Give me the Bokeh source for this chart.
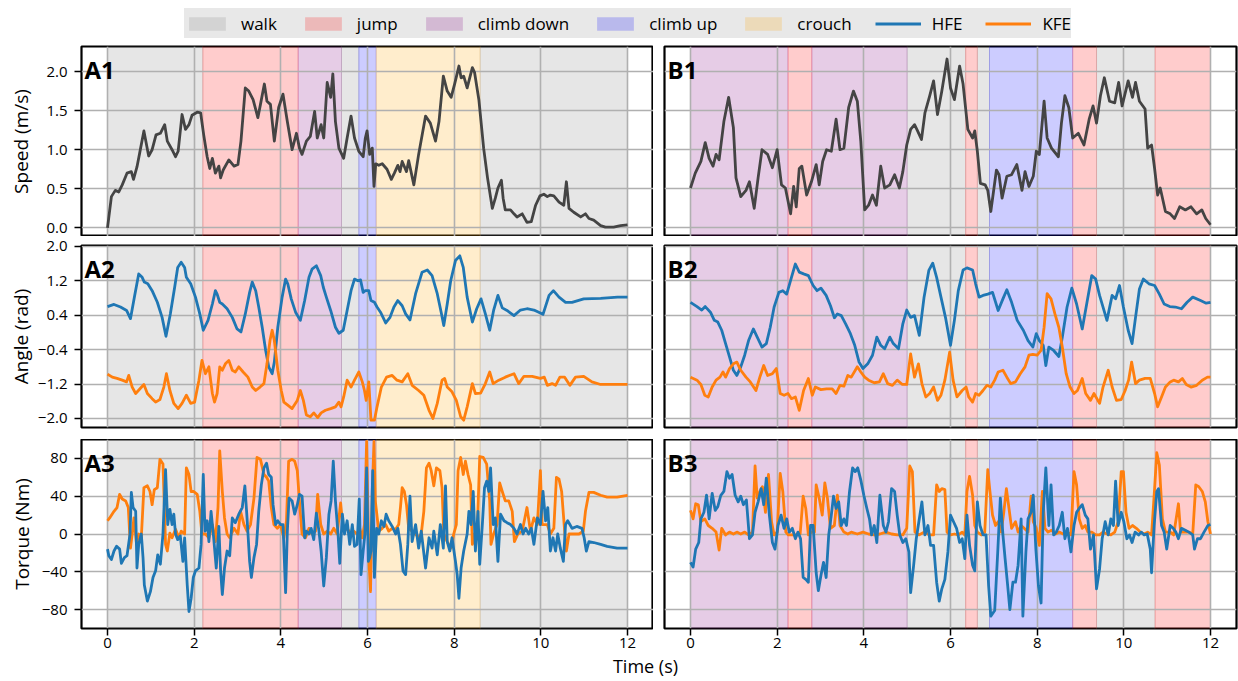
from bokeh.plotting import figure
from bokeh.models import (Range1d, FixedTicker, CustomJSTickFormatter, Label, Legend,
                          LegendItem, ColumnDataSource)
from bokeh.layouts import column, row
from bokeh.embed import file_html
from bokeh.resources import INLINE

FONT = "Open Sans"

# ---------------- data ----------------
PHASES = ["walk", "jump", "climb down", "climb up", "crouch"]
PHASE_COLORS = ["gray", "red", "purple", "blue", "orange"]
JOINTS = ["HFE", "KFE"]
JOINT_COLORS = ["#1f77b4", "#ff7f0e"]
SPEED_COLOR = "#444444"

XTICKS = [0, 2, 4, 6, 8, 10, 12]
SPEED_TICKS = [0.0, 0.5, 1.0, 1.5, 2.0]
ANGLE_TICKS = [-2.0, -1.2, -0.4, 0.4, 1.2, 2.0]
TORQUE_TICKS = [-80, -40, 0, 40, 80]

# phase segments
A_seg_start = [0.0, 2.2, 4.4, 5.4, 5.8, 6.2, 8.6]
A_seg_end = [2.2, 4.4, 5.4, 5.8, 6.2, 8.6, 12.0]
A_seg_phase = ["walk", "jump", "climb down", "walk", "climb up", "crouch", "walk"]
B_seg_start = [0.0, 2.25, 2.8, 5.0, 6.35, 6.62, 6.9, 8.82, 9.37, 10.72]
B_seg_end = [2.25, 2.8, 5.0, 6.35, 6.62, 6.9, 8.82, 9.37, 10.72, 12.0]
B_seg_phase = ["climb down", "jump", "climb down", "walk", "jump", "walk", "climb up", "jump", "walk", "jump"]

# speed A1
tA1 = [0.00,0.09,0.18,0.26,0.34,0.45,0.55,0.60,0.68,0.74,0.84,0.95,1.03,1.12,1.22,1.32,1.38,1.49,1.57,1.63,
       1.72,1.80,1.88,1.95,2.07,2.15,2.22,2.30,2.36,2.42,2.49,2.57,2.61,2.67,2.80,2.92,3.01,3.08,3.18,3.26,
       3.36,3.47,3.53,3.62,3.68,3.76,3.85,3.95,4.05,4.15,4.26,4.36,4.43,4.49,4.59,4.68,4.78,4.84,4.93,4.99,
       5.07,5.15,5.20,5.26,5.34,5.45,5.53,5.62,5.70,5.80,5.90,5.95,5.99,6.05,6.11,6.15,6.19,6.26,6.34,6.45,
       6.55,6.62,6.70,6.75,6.80,6.90,6.95,7.07,7.18,7.34,7.45,7.57,7.65,7.75,7.84,7.93,8.01,8.11,8.16,8.22,
       8.30,8.42,8.47,8.57,8.68,8.77,8.88,8.95,9.01,9.09,9.13,9.18,9.30,9.38,9.45,9.57,9.68,9.78,9.88,9.98,
       10.07,10.15,10.22,10.30,10.42,10.53,10.59,10.65,10.76,10.92,11.03,11.11,11.22,11.38,11.49,11.68,11.84,12.00]
vA1 = [0.00,0.40,0.48,0.46,0.55,0.70,0.72,0.62,0.78,0.95,1.24,0.92,1.00,1.19,1.21,1.32,1.11,1.00,0.91,0.98,
       1.45,1.26,1.32,1.44,1.48,1.47,1.19,0.91,0.76,0.89,0.70,0.79,0.64,0.74,0.87,0.79,0.81,1.11,1.79,1.75,
       1.64,1.41,1.58,1.84,1.62,1.58,1.11,1.54,1.71,1.36,1.00,1.21,1.02,0.94,1.11,1.17,1.49,1.15,1.32,1.15,
       1.86,1.67,1.97,1.36,1.02,0.89,1.15,1.43,1.15,0.98,0.91,1.15,1.24,0.94,1.02,0.53,0.82,0.80,0.82,0.75,
       0.62,0.70,0.80,0.72,0.85,0.72,0.86,0.55,0.94,1.43,1.34,1.11,1.36,1.94,1.75,1.67,1.84,2.07,1.92,1.94,
       1.79,2.05,1.99,1.64,1.02,0.64,0.25,0.38,0.51,0.61,0.38,0.23,0.23,0.18,0.14,0.18,0.07,0.08,0.29,0.41,
       0.43,0.40,0.42,0.41,0.33,0.29,0.59,0.25,0.20,0.14,0.18,0.12,0.10,0.03,0.01,0.01,0.03,0.04]

# speed B1
tB1 = [0.00,0.11,0.24,0.34,0.43,0.52,0.59,0.66,0.77,0.88,0.99,1.05,1.16,1.28,1.36,1.47,1.56,1.65,1.78,1.89,
       2.00,2.10,2.19,2.31,2.38,2.44,2.51,2.57,2.68,2.79,2.90,2.97,3.05,3.14,3.25,3.36,3.45,3.54,3.65,3.76,
       3.85,3.93,4.02,4.11,4.20,4.29,4.39,4.48,4.60,4.71,4.82,4.90,4.99,5.08,5.17,5.24,5.33,5.41,5.52,5.61,
       5.70,5.80,5.92,6.00,6.09,6.21,6.29,6.40,6.51,6.56,6.62,6.69,6.80,6.86,6.93,7.06,7.12,7.19,7.30,7.41,
       7.53,7.65,7.72,7.81,7.91,7.98,8.05,8.16,8.23,8.33,8.49,8.56,8.64,8.73,8.82,8.95,9.08,9.20,9.29,9.37,
       9.46,9.55,9.67,9.79,9.88,9.96,10.10,10.20,10.27,10.36,10.49,10.55,10.64,10.71,10.78,10.84,10.96,11.07,11.17,11.29,
       11.42,11.55,11.68,11.80,11.89,12.00]
vB1 = [0.51,0.70,0.85,1.09,0.89,0.79,0.94,0.87,1.36,1.67,1.28,0.64,0.40,0.48,0.59,0.25,0.64,1.00,0.94,0.77,
       1.00,0.55,0.51,0.18,0.53,0.27,0.76,0.79,0.42,0.59,0.81,0.55,0.85,1.00,0.98,1.39,1.00,1.02,1.54,1.75,
       1.62,1.11,0.23,0.29,0.42,0.29,0.79,0.51,0.55,0.68,0.51,0.72,1.06,1.26,1.32,1.24,1.13,1.47,1.69,1.88,
       1.45,1.75,2.16,1.79,1.64,2.07,1.84,1.26,1.15,1.24,0.98,0.57,0.55,0.48,0.21,0.74,0.68,0.38,0.66,0.68,
       0.81,0.48,0.72,0.53,0.66,0.98,0.94,1.62,1.15,1.02,0.91,1.34,1.69,1.54,1.15,1.21,1.06,1.39,1.56,1.34,
       1.69,1.92,1.62,1.60,1.86,1.56,1.88,1.67,1.86,1.62,1.52,1.02,1.06,0.76,0.42,0.51,0.21,0.18,0.12,0.27,
       0.23,0.27,0.18,0.23,0.12,0.04]

# angle A2
tHA2 = [0,0.15,0.30,0.44,0.53,0.62,0.72,0.80,0.85,0.93,1.03,1.15,1.26,1.35,1.45,1.55,1.62,1.70,1.78,1.82,
        1.92,2.03,2.13,2.21,2.32,2.42,2.49,2.53,2.59,2.65,2.76,2.88,2.99,3.08,3.18,3.28,3.34,3.42,3.49,3.57,
        3.65,3.72,3.80,3.85,3.93,4.03,4.11,4.16,4.24,4.34,4.45,4.55,4.65,4.72,4.82,4.92,4.98,5.05,5.15,5.26,
        5.34,5.44,5.53,5.62,5.70,5.78,5.84,5.90,5.95,6.03,6.08,6.16,6.22,6.30,6.42,6.52,6.61,6.70,6.80,6.88,
        6.98,7.11,7.26,7.38,7.49,7.61,7.70,7.76,7.84,7.92,8.03,8.13,8.21,8.30,8.42,8.52,8.62,8.72,8.82,8.91,
        9.01,9.11,9.22,9.38,9.53,9.68,9.84,10.05,10.19,10.29,10.42,10.57,10.72,10.99,11.38,11.77,12.00]
hA2 = [0.60,0.65,0.59,0.51,0.32,0.82,1.36,1.28,1.17,1.13,0.97,0.70,0.35,-0.09,0.43,1.05,1.51,1.63,1.51,1.28,
       1.13,0.82,0.43,0.05,0.28,0.66,0.97,0.89,0.70,0.66,0.55,0.35,0.08,0.01,0.43,0.93,1.17,0.97,0.59,0.12,
       -0.42,-0.80,-0.96,-0.69,0.12,0.82,1.24,1.13,0.78,0.47,0.28,0.74,1.28,1.47,1.55,1.32,1.05,0.82,0.51,0.12,
       -0.02,0.05,0.51,0.97,1.24,1.20,1.22,0.93,0.97,0.97,0.74,0.70,0.59,0.47,0.22,0.35,0.59,0.74,0.62,0.43,
       0.29,0.90,1.40,1.45,1.32,0.90,0.47,0.16,0.66,1.20,1.67,1.78,1.51,0.82,0.24,0.55,0.78,0.43,0.05,0.51,
       0.86,0.57,0.51,0.39,0.52,0.55,0.52,0.42,0.86,0.97,0.82,0.70,0.70,0.78,0.79,0.82,0.82]
tKA2 = [0,0.11,0.22,0.34,0.44,0.49,0.57,0.65,0.75,0.84,0.92,1.03,1.11,1.21,1.30,1.36,1.44,1.53,1.63,1.72,
        1.82,1.92,2.01,2.11,2.18,2.26,2.34,2.42,2.47,2.53,2.59,2.65,2.72,2.80,2.88,2.95,3.03,3.13,3.24,3.34,
        3.42,3.52,3.61,3.68,3.75,3.80,3.85,3.93,4.01,4.07,4.16,4.26,4.38,4.45,4.52,4.59,4.68,4.76,4.85,4.93,
        5.03,5.15,5.26,5.34,5.39,5.45,5.53,5.62,5.70,5.80,5.88,5.93,5.97,6.03,6.08,6.16,6.22,6.32,6.44,6.57,
        6.68,6.80,6.93,7.03,7.18,7.30,7.42,7.51,7.61,7.72,7.78,7.84,7.95,8.05,8.15,8.22,8.30,8.42,8.49,8.61,
        8.72,8.82,8.90,9.03,9.18,9.38,9.49,9.61,9.80,9.99,10.08,10.15,10.26,10.34,10.44,10.55,10.67,10.80,10.99,11.18,
        11.38,12.00]
kA2 = [-0.97,-1.04,-1.07,-1.11,-1.15,-1.00,-1.27,-1.42,-1.31,-1.21,-1.42,-1.54,-1.62,-1.56,-1.27,-0.96,-1.35,-1.65,-1.77,-1.65,
       -1.46,-1.65,-1.62,-1.11,-0.65,-0.96,-0.80,-1.42,-1.62,-1.42,-0.80,-0.88,-0.73,-0.65,-0.88,-0.92,-0.80,-0.92,-1.04,-1.27,
       -1.35,-1.27,-1.19,-0.73,-0.19,0.05,-0.19,-0.88,-1.35,-1.62,-1.69,-1.77,-1.58,-1.35,-1.58,-1.92,-1.96,-1.87,-1.98,-1.87,
       -1.81,-1.77,-1.73,-1.62,-1.73,-1.50,-1.11,-1.27,-1.11,-0.92,-1.15,-1.35,-1.58,-1.15,-2.04,-2.04,-1.73,-1.27,-1.04,-1.00,
       -1.11,-1.15,-0.96,-1.23,-1.35,-1.46,-1.81,-2.00,-1.65,-1.11,-1.07,-1.27,-1.38,-1.58,-1.96,-2.04,-1.73,-1.19,-1.42,-1.41,
       -1.19,-0.92,-1.19,-1.11,-1.04,-0.96,-1.19,-1.02,-1.02,-1.07,-1.04,-1.23,-1.19,-1.23,-1.04,-1.04,-1.23,-1.04,-1.02,-1.15,
       -1.21,-1.21]

# angle B2
tHB2 = [0,0.15,0.26,0.34,0.46,0.55,0.63,0.72,0.81,0.90,0.99,1.07,1.16,1.25,1.34,1.45,1.54,1.65,1.75,1.84,
        1.93,2.04,2.13,2.22,2.33,2.42,2.51,2.61,2.72,2.83,2.92,3.01,3.13,3.23,3.32,3.39,3.48,3.58,3.69,3.79,
        3.89,3.98,4.09,4.20,4.30,4.39,4.48,4.60,4.68,4.80,4.90,4.99,5.08,5.17,5.28,5.39,5.50,5.59,5.68,5.78,
        5.89,6.00,6.09,6.18,6.29,6.38,6.51,6.58,6.66,6.75,6.86,6.97,7.10,7.21,7.30,7.41,7.54,7.68,7.79,7.90,
        7.98,8.05,8.14,8.20,8.27,8.38,8.50,8.58,8.69,8.80,8.91,9.04,9.15,9.26,9.35,9.44,9.52,9.61,9.73,9.81,
        9.90,9.99,10.10,10.19,10.27,10.36,10.45,10.58,10.71,10.82,10.93,11.06,11.19,11.33,11.46,11.59,11.77,11.90,12.00]
hB2 = [0.70,0.60,0.52,0.60,0.47,0.28,0.24,0.05,-0.26,-0.57,-0.88,-1.00,-0.80,-0.53,-0.19,0.08,-0.11,-0.34,-0.26,0.12,
       0.59,0.93,0.97,0.89,1.28,1.59,1.40,1.36,1.32,1.09,0.97,1.03,0.86,0.62,0.34,0.43,0.39,0.20,-0.03,-0.30,
       -0.69,-0.84,-0.73,-0.53,-0.11,-0.30,-0.38,-0.11,-0.26,-0.38,0.20,0.52,0.35,0.39,-0.07,0.82,1.44,1.61,1.28,0.82,
       0.32,-0.30,0.28,0.97,1.45,1.50,1.45,1.13,0.82,0.86,0.89,0.93,0.51,0.78,0.99,0.70,0.28,0.05,-0.19,-0.34,
       -0.03,-0.19,-0.30,-0.77,-0.34,-0.42,-0.56,-0.11,0.59,1.03,0.66,0.08,0.70,1.32,1.24,0.86,0.59,0.28,0.86,0.78,
       1.09,0.59,0.05,-0.26,0.35,1.01,1.24,1.13,1.09,0.89,0.66,0.60,0.59,0.55,0.70,0.82,0.74,0.68,0.70]
tKB2 = [0,0.15,0.24,0.33,0.41,0.50,0.59,0.68,0.75,0.81,0.90,0.99,1.07,1.16,1.28,1.38,1.51,1.60,1.69,1.78,
        1.89,1.98,2.07,2.16,2.25,2.33,2.42,2.51,2.61,2.72,2.81,2.88,3.01,3.14,3.27,3.36,3.45,3.54,3.63,3.71,
        3.85,3.93,4.02,4.11,4.24,4.36,4.45,4.55,4.66,4.77,4.89,4.99,5.08,5.17,5.26,5.34,5.43,5.52,5.61,5.70,
        5.78,5.87,5.98,6.06,6.15,6.27,6.36,6.42,6.51,6.58,6.66,6.75,6.84,6.93,7.02,7.10,7.21,7.30,7.39,7.50,
        7.61,7.72,7.81,7.90,8.00,8.09,8.16,8.23,8.32,8.41,8.50,8.58,8.67,8.76,8.85,8.93,9.04,9.12,9.23,9.31,
        9.44,9.52,9.64,9.73,9.83,9.94,10.03,10.11,10.18,10.27,10.36,10.49,10.61,10.71,10.78,10.87,10.96,11.07,11.15,11.26,
        11.35,11.44,11.55,11.68,11.81,11.93,12.00]
kB2 = [-1.04,-1.11,-1.21,-1.46,-1.50,-1.27,-1.11,-1.04,-0.92,-1.04,-0.84,-0.73,-0.69,-0.88,-1.04,-1.15,-1.35,-1.04,-0.77,-1.00,
       -0.96,-0.84,-1.42,-1.46,-1.42,-1.54,-1.50,-1.81,-1.35,-1.07,-1.46,-1.27,-1.33,-1.31,-1.31,-1.42,-1.23,-1.25,-1.00,-1.04,
       -0.80,-0.92,-1.04,-1.11,-1.17,-1.15,-0.96,-1.19,-1.23,-1.11,-1.21,-1.21,-0.50,-1.04,-0.73,-1.19,-1.50,-1.42,-1.27,-1.58,
       -1.46,-1.11,-0.46,-1.11,-1.50,-1.35,-1.27,-1.50,-1.62,-1.42,-1.46,-1.35,-1.23,-1.27,-1.11,-0.92,-0.88,-1.04,-1.19,-1.15,
       -0.96,-0.80,-0.53,-0.51,-0.53,-0.42,0.12,0.90,0.78,0.43,0.12,-0.34,-0.96,-1.27,-1.42,-1.35,-1.07,-1.42,-1.58,-1.42,
       -1.65,-1.27,-0.88,-1.27,-1.58,-1.56,-1.35,-1.11,-0.69,-1.19,-1.11,-1.07,-1.07,-1.42,-1.73,-1.50,-1.27,-1.15,-1.11,-1.15,
       -1.07,-1.21,-1.27,-1.23,-1.11,-1.04,-1.04]

# torque A3
tHA3 = [0,0.03,0.09,0.15,0.21,0.28,0.32,0.39,0.45,0.52,0.55,0.59,0.65,0.68,0.72,0.78,0.82,0.85,0.92,0.99,
        1.05,1.11,1.16,1.22,1.28,1.34,1.39,1.44,1.49,1.53,1.57,1.62,1.68,1.74,1.78,1.84,1.88,1.93,1.98,2.03,
        2.11,2.16,2.21,2.25,2.30,2.34,2.39,2.45,2.51,2.57,2.61,2.65,2.70,2.76,2.82,2.88,2.95,3.03,3.11,3.17,
        3.22,3.28,3.32,3.38,3.44,3.49,3.55,3.61,3.67,3.72,3.78,3.82,3.88,3.93,3.99,4.05,4.11,4.15,4.19,4.26,
        4.32,4.38,4.43,4.49,4.55,4.59,4.65,4.70,4.76,4.82,4.88,4.93,4.99,5.05,5.11,5.16,5.21,5.26,5.32,5.36,
        5.42,5.47,5.53,5.59,5.65,5.70,5.76,5.81,5.85,5.90,5.94,5.98,6.02,6.05,6.08,6.12,6.16,6.21,6.26,6.32,
        6.38,6.43,6.49,6.57,6.65,6.70,6.76,6.82,6.88,6.93,6.98,7.03,7.11,7.18,7.24,7.34,7.42,7.49,7.53,7.61,
        7.68,7.75,7.80,7.84,7.90,7.95,8.03,8.07,8.11,8.16,8.22,8.30,8.34,8.39,8.44,8.49,8.55,8.59,8.65,8.70,
        8.75,8.80,8.84,8.90,8.95,9.01,9.07,9.15,9.22,9.30,9.38,9.45,9.53,9.59,9.65,9.72,9.78,9.84,9.92,9.99,
        10.05,10.11,10.16,10.22,10.28,10.34,10.39,10.45,10.52,10.57,10.62,10.67,10.72,10.83,10.95,11.00,11.05,11.11,11.22,11.38,
        11.53,11.76,12.00]
hA3 = [-16,-23,-27,-18,-13,-16,-31,-25,-23,0,44,28,24,-36,-11,0,-25,-54,-71,-61,
       -46,-39,-22,-32,0,68,10,26,10,21,0,-6,-2,-29,-4,-54,-82,-68,-46,-39,
       -36,-11,63,3,14,-8,24,-4,-36,8,-39,-64,-36,-18,-23,17,12,21,28,51,
       17,-29,-46,-25,-11,24,52,70,75,63,60,31,10,14,10,10,-62,3,38,35,
       21,31,42,40,-4,3,0,6,-6,22,3,-18,-55,-25,21,35,77,35,0,-31,
       21,0,14,-11,10,-13,-11,37,-43,-18,0,70,-29,-25,-18,67,-46,6,0,14,
       8,21,14,8,0,6,-11,-39,-43,-11,40,-8,10,-15,3,-36,-4,-15,3,-22,
       10,-15,51,-8,-18,-4,-29,-43,-68,-36,-18,0,24,10,45,-18,24,-32,10,49,
       56,45,70,10,17,-29,21,14,12,10,6,0,10,0,6,0,6,-11,17,10,
       45,14,28,-18,-4,-18,0,-15,-29,10,14,10,6,8,6,-4,-18,-8,-9,-11,
       -13,-15,-15]
tKA3 = [0,0.05,0.15,0.22,0.28,0.34,0.42,0.48,0.53,0.57,0.61,0.67,0.72,0.78,0.84,0.92,0.98,1.03,1.08,1.15,
        1.21,1.28,1.34,1.38,1.44,1.49,1.57,1.65,1.70,1.78,1.82,1.88,1.93,1.99,2.07,2.13,2.18,2.26,2.34,2.42,
        2.49,2.55,2.59,2.65,2.70,2.76,2.82,2.92,3.01,3.07,3.15,3.22,3.30,3.38,3.45,3.53,3.61,3.67,3.72,3.78,
        3.84,3.92,3.99,4.07,4.13,4.18,4.26,4.32,4.38,4.44,4.49,4.57,4.65,4.72,4.80,4.85,4.92,4.99,5.07,5.15,
        5.22,5.30,5.38,5.44,5.53,5.61,5.68,5.76,5.82,5.88,5.93,5.98,6.03,6.07,6.11,6.15,6.18,6.26,6.34,6.42,
        6.49,6.57,6.65,6.72,6.76,6.80,6.85,6.90,6.95,7.03,7.11,7.18,7.24,7.30,7.36,7.42,7.47,7.53,7.59,7.67,
        7.72,7.76,7.84,7.92,7.99,8.05,8.09,8.15,8.21,8.26,8.32,8.38,8.42,8.47,8.53,8.59,8.67,8.75,8.82,8.85,
        8.91,8.99,9.05,9.11,9.18,9.26,9.34,9.39,9.47,9.57,9.68,9.76,9.84,9.92,9.99,10.03,10.15,10.22,10.30,10.36,
        10.42,10.48,10.55,10.59,10.65,10.76,10.88,10.98,11.03,11.11,11.22,11.38,11.53,11.76,12.00]
kA3 = [14,17,24,28,42,37,35,28,-15,0,17,-11,0,-4,49,51,45,31,47,49,
       79,74,-11,-18,1,-4,5,-4,3,0,70,63,45,45,42,24,0,0,-4,10,
       -8,28,88,45,17,0,-4,6,0,24,10,3,10,38,81,79,63,60,56,28,
       10,6,10,-4,14,77,79,77,67,28,0,-4,6,0,3,42,10,0,3,0,
       6,0,33,3,6,0,3,0,6,-4,10,98,-25,-61,45,98,35,3,6,10,
       3,6,5,10,28,49,45,31,6,3,0,-4,0,24,70,75,67,51,70,67,
       49,0,-8,-15,0,10,67,81,63,77,63,52,-11,0,0,82,81,74,35,-11,
       0,10,54,45,35,35,24,-8,0,3,28,3,17,10,67,10,10,0,6,60,
       58,45,3,-18,0,0,0,3,24,44,44,41,39,39,41]

# torque B3
tHB3 = [0,0.06,0.12,0.19,0.24,0.31,0.37,0.43,0.50,0.57,0.63,0.70,0.77,0.84,0.90,0.96,1.03,1.10,1.16,1.22,
        1.29,1.36,1.43,1.49,1.56,1.63,1.69,1.75,1.82,1.89,1.95,2.02,2.09,2.16,2.22,2.28,2.35,2.42,2.48,2.54,
        2.60,2.66,2.72,2.77,2.83,2.90,2.95,3.01,3.07,3.13,3.19,3.25,3.30,3.36,3.42,3.48,3.54,3.60,3.67,3.74,
        3.80,3.86,3.93,4.00,4.07,4.13,4.18,4.24,4.30,4.37,4.45,4.51,4.57,4.64,4.71,4.77,4.83,4.90,4.97,5.04,
        5.08,5.15,5.21,5.27,5.34,5.41,5.48,5.54,5.61,5.68,5.74,5.80,5.87,5.94,6.00,6.07,6.14,6.21,6.27,6.33,
        6.38,6.44,6.51,6.56,6.62,6.68,6.75,6.82,6.88,6.93,7.02,7.09,7.15,7.21,7.26,7.32,7.37,7.44,7.50,7.56,
        7.63,7.67,7.74,7.79,7.86,7.91,7.97,8.03,8.09,8.14,8.20,8.27,8.32,8.38,8.44,8.51,8.58,8.64,8.70,8.78,
        8.85,8.91,8.97,9.04,9.11,9.17,9.23,9.30,9.37,9.44,9.50,9.57,9.64,9.70,9.76,9.81,9.87,9.94,10.00,10.07,
        10.13,10.19,10.26,10.34,10.40,10.47,10.54,10.61,10.64,10.70,10.76,10.80,10.87,10.93,10.99,11.07,11.14,11.20,11.26,11.33,
        11.42,11.50,11.59,11.63,11.70,11.77,11.85,11.94,12.00]
hB3 = [-30,-35,-16,-9,16,23,41,16,43,25,29,41,45,66,59,63,41,34,40,31,
       36,-5,-1,23,34,48,31,59,20,-9,-16,9,20,6,16,2,6,-5,2,-5,
       -46,-48,-51,9,9,-41,-60,-44,-30,-46,-1,20,40,27,34,9,16,9,45,70,
       66,70,57,41,27,16,-1,9,-9,41,9,2,13,48,45,20,-1,-9,-5,-19,
       -62,-33,-5,13,34,-1,9,-12,-12,-51,-71,-58,-48,-19,20,13,6,-9,-5,-26,
       20,-12,-33,-39,34,9,-1,-1,-55,-87,-81,-19,38,-1,-26,-55,-80,-51,-51,-33,
       16,-87,-19,16,23,41,-16,-55,-73,23,70,9,52,-1,2,9,23,-5,6,-19,
       9,23,27,31,20,16,-16,-1,-58,-37,-5,13,-1,16,9,56,9,23,13,-5,
       -1,-9,2,-1,2,-1,0,-16,-41,9,45,48,9,2,-16,9,6,2,-5,6,
       4,2,-1,-16,-5,-5,2,9,10]
tKB3 = [0,0.06,0.12,0.18,0.24,0.33,0.41,0.50,0.59,0.66,0.72,0.81,0.90,0.99,1.07,1.16,1.25,1.34,1.43,1.49,
        1.54,1.60,1.66,1.73,1.80,1.87,1.93,2.00,2.07,2.13,2.20,2.26,2.35,2.44,2.53,2.60,2.66,2.72,2.79,2.86,
        2.90,2.97,3.04,3.10,3.16,3.23,3.32,3.39,3.45,3.54,3.63,3.71,3.85,3.98,4.11,4.24,4.37,4.51,4.64,4.77,
        4.90,4.99,5.06,5.12,5.18,5.27,5.39,5.52,5.61,5.68,5.74,5.80,5.87,5.92,6.00,6.09,6.18,6.27,6.33,6.38,
        6.44,6.51,6.56,6.62,6.71,6.79,6.86,6.91,6.97,7.04,7.10,7.17,7.23,7.29,7.35,7.41,7.50,7.56,7.63,7.70,
        7.79,7.86,7.91,7.98,8.05,8.12,8.18,8.25,8.33,8.42,8.51,8.60,8.69,8.78,8.85,8.91,8.97,9.04,9.11,9.17,
        9.26,9.35,9.44,9.52,9.61,9.70,9.79,9.87,9.94,9.99,10.05,10.12,10.20,10.29,10.38,10.47,10.55,10.64,10.71,10.76,
        10.82,10.89,10.96,11.07,11.15,11.26,11.31,11.40,11.50,11.59,11.66,11.73,11.81,11.88,11.94,12.00]
kB3 = [25,16,32,31,13,16,9,6,2,-17,6,-1,2,0,2,0,2,-1,2,72,
       38,45,50,23,63,13,-1,2,64,45,2,-1,-1,-1,0,40,27,-1,2,2,
       52,38,20,54,38,6,9,41,9,2,0,2,0,2,0,-1,0,2,0,-1,
       -1,6,72,66,2,-1,2,-1,-1,52,45,48,47,2,-1,0,-1,2,-1,45,
       61,41,9,2,-1,2,68,45,20,9,13,2,23,48,27,6,13,2,9,6,
       2,40,13,6,-12,45,6,2,4,0,2,0,2,-1,66,52,16,6,9,2,
       2,-1,-1,2,0,-1,2,13,66,66,23,6,9,6,2,0,2,-1,48,86,
       73,16,2,2,-1,32,2,2,2,0,52,50,45,34,13,0]

# ---------------- helpers ----------------
FRAME_W = 572
COLOR_OF = dict(zip(PHASES, PHASE_COLORS))

def fmt(decimals):
    return CustomJSTickFormatter(code=f"""
        const s = Math.abs(tick).toFixed({decimals});
        return (tick < -1e-9 ? '\u2212' : '') + s;""")

def panel(letter, fh, yr, yticks, dec, ylabel, col_a, row_idx, label_standoff):
    left = 81 if col_a else 11
    right = 0 if col_a else 2
    top = {0: 1, 1: 9, 2: 0}[row_idx]
    bottom = {0: 0, 1: 12, 2: 26}[row_idx]
    p = figure(frame_width=FRAME_W, frame_height=fh,
               x_range=Range1d(-0.6, 12.6), y_range=Range1d(*yr),
               output_backend="svg", toolbar_location=None,
               min_border_left=left, min_border_right=right,
               min_border_top=top, min_border_bottom=bottom)
    p.background_fill_color = "white"
    p.border_fill_color = "white"
    p.outline_line_color = "black"
    p.outline_line_width = 2.2
    xt = FixedTicker(ticks=XTICKS)
    yt = FixedTicker(ticks=yticks)
    p.xaxis.ticker = xt
    p.yaxis.ticker = yt
    p.xgrid.ticker = xt
    p.ygrid.ticker = yt
    p.grid.grid_line_color = "#b0b0b0"
    p.grid.grid_line_width = 1.6
    for ax in (p.xaxis[0], p.yaxis[0]):
        ax.axis_line_color = None
        ax.major_tick_line_color = "black"
        ax.major_tick_line_width = 1.5
        ax.major_tick_out = 7
        ax.major_tick_in = 0
        ax.minor_tick_line_color = None
        ax.major_label_text_font = FONT
        ax.major_label_text_font_size = "15px"
        ax.major_label_text_color = "black"
    p.xaxis.major_label_standoff = 2
    p.yaxis.major_label_standoff = 7
    p.yaxis.formatter = fmt(dec)
    if col_a:
        p.yaxis.axis_label = ylabel
        p.yaxis.axis_label_text_font = FONT
        p.yaxis.axis_label_text_font_size = "19px"
        p.yaxis.axis_label_text_font_style = "normal"
        p.yaxis.axis_label_text_color = "black"
        p.yaxis.axis_label_standoff = label_standoff
    else:
        p.yaxis.visible = False
    if row_idx < 2:
        p.xaxis.visible = False
    p.add_layout(Label(x=3, y=fh - 23, x_units="screen", y_units="screen", text=letter,
                       text_font=FONT, text_font_style="bold", text_font_size="24px",
                       text_color="black", text_baseline="alphabetic"))
    return p

def add_segments(p, starts, ends, phases):
    src = ColumnDataSource(dict(left=starts, right=ends,
                                color=[COLOR_OF[k] for k in phases]))
    r = p.quad(left="left", right="right", bottom=-1000, top=1000, source=src,
               fill_color="color", fill_alpha=0.2, line_color="color", line_alpha=0.2, line_width=1)
    r.level = "image"

def add_line(p, t, v, color):
    n = min(len(t), len(v))
    p.line(t[:n], v[:n], line_color=color, line_width=2.8, line_join="round")

# ---------------- panels ----------------
H1, H2, H3 = 190, 182, 189
SPEED_R = (-0.11, 2.32)
ANGLE_R = (-2.21, 2.02)
TORQUE_R = (-100, 100)

a1 = panel("A1", H1, SPEED_R, SPEED_TICKS, 1, "Speed (m/s)", True, 0, 9)
b1 = panel("B1", H1, SPEED_R, SPEED_TICKS, 1, "", False, 0, 0)
a2 = panel("A2", H2, ANGLE_R, ANGLE_TICKS, 1, "Angle (rad)", True, 1, 1)
b2 = panel("B2", H2, ANGLE_R, ANGLE_TICKS, 1, "", False, 1, 0)
a3 = panel("A3", H3, TORQUE_R, TORQUE_TICKS, 0, "Torque (Nm)", True, 2, 4)
b3 = panel("B3", H3, TORQUE_R, TORQUE_TICKS, 0, "", False, 2, 0)

for p in (a1, a2, a3):
    add_segments(p, A_seg_start, A_seg_end, A_seg_phase)
for p in (b1, b2, b3):
    add_segments(p, B_seg_start, B_seg_end, B_seg_phase)

add_line(a1, tA1, vA1, SPEED_COLOR)
add_line(b1, tB1, vB1, SPEED_COLOR)
add_line(a2, tHA2, hA2, JOINT_COLORS[0])
add_line(a2, tKA2, kA2, JOINT_COLORS[1])
add_line(b2, tHB2, hB2, JOINT_COLORS[0])
add_line(b2, tKB2, kB2, JOINT_COLORS[1])
add_line(a3, tKA3, kA3, JOINT_COLORS[1])
add_line(a3, tHA3, hA3, JOINT_COLORS[0])
add_line(b3, tKB3, kB3, JOINT_COLORS[1])
add_line(b3, tHB3, hB3, JOINT_COLORS[0])

# ---------------- legend strip ----------------
LEG_H = 45
lg = figure(width=1238, height=LEG_H, x_range=Range1d(0, 1), y_range=Range1d(0, 1),
            output_backend="svg", toolbar_location=None, min_border=0)
lg.axis.visible = False
lg.grid.visible = False
lg.outline_line_color = None
items = []
for name, colr in zip(PHASES, PHASE_COLORS):
    r = lg.quad(left=[5], right=[6], bottom=[5], top=[6], fill_color=colr, fill_alpha=0.2, line_color=None)
    items.append(LegendItem(label=name, renderers=[r]))
for name, colr in zip(JOINTS, JOINT_COLORS):
    r = lg.line(x=[5, 6], y=[5, 6], line_color=colr, line_width=3)
    items.append(LegendItem(label=name, renderers=[r]))
leg = Legend(items=items, orientation="horizontal", location=(184, LEG_H - 38),
             glyph_width=46, glyph_height=17, label_standoff=11, spacing=23,
             padding=6, margin=0, label_height=30,
             label_text_font=FONT, label_text_font_size="17px", label_text_color="black",
             background_fill_color="#e8e8e8", background_fill_alpha=1.0,
             border_line_color=None)
lg.add_layout(leg)

# ---------------- bottom label strip ----------------
TL_H = 27
tl = figure(width=1238, height=TL_H, x_range=Range1d(0, 1238), y_range=Range1d(0, TL_H),
            output_backend="svg", toolbar_location=None, min_border=0)
tl.axis.visible = False
tl.grid.visible = False
tl.outline_line_color = None
tl.add_layout(Label(x=645, y=TL_H - 11, text="Time (s)", text_font=FONT, text_font_size="18px",
                    text_align="center", text_baseline="middle", text_color="black"))

layout = column(lg, row(column(a1, a2, a3), column(b1, b2, b3)), tl)

open("out.html", "w").write(file_html(layout, INLINE))
